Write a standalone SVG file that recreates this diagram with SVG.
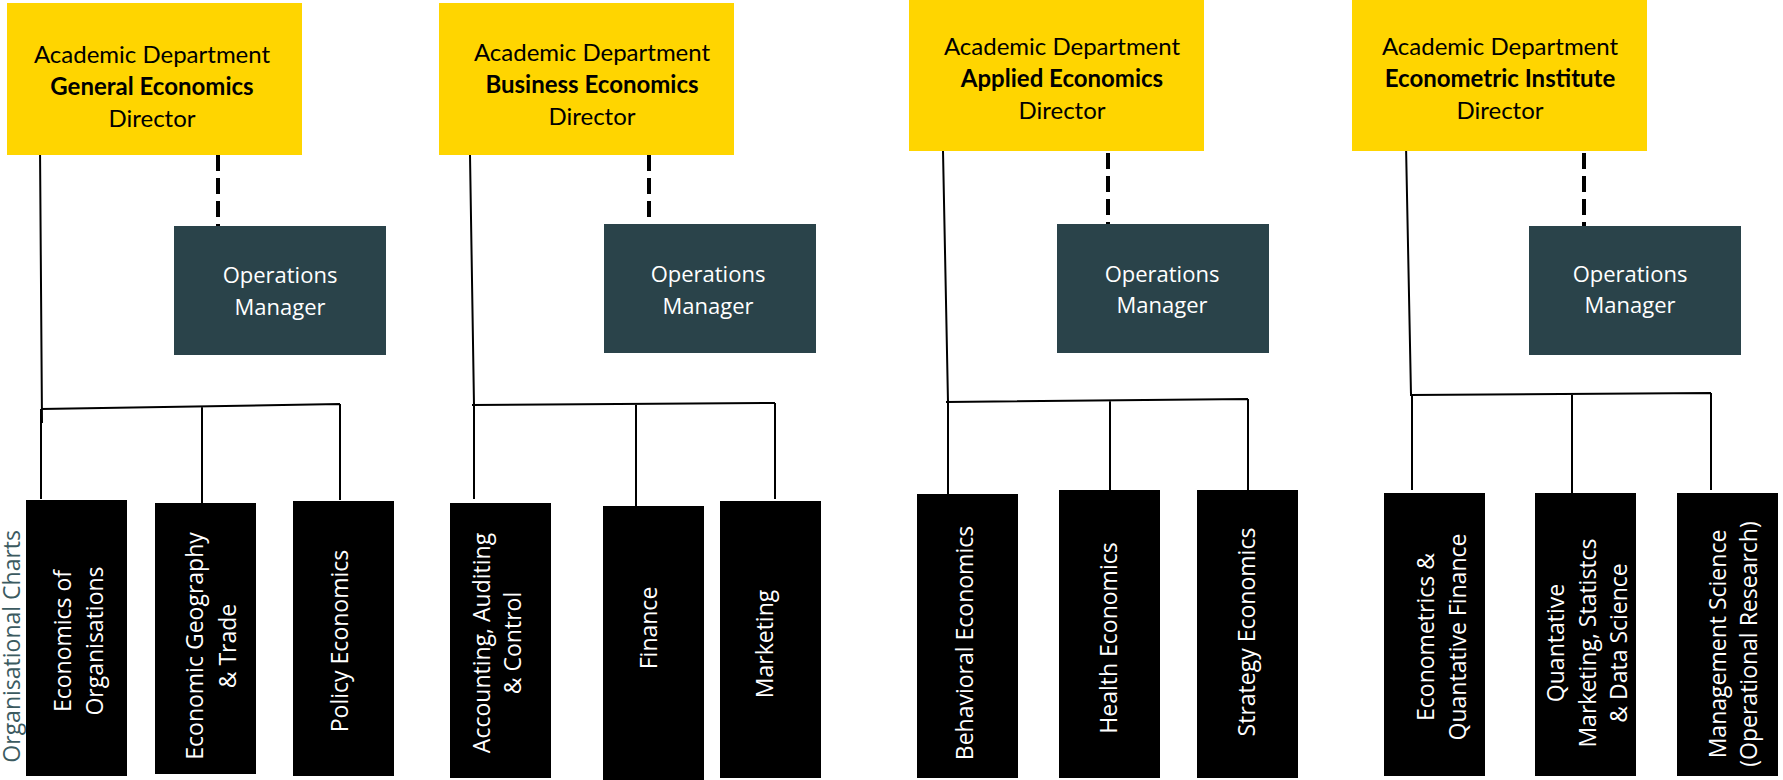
<svg xmlns="http://www.w3.org/2000/svg" width="1783" height="780" viewBox="0 0 1783 780">
<style>
.dir{fill:#FFD500}
.ops{fill:#2A434A}
.unit{fill:#000}
.t{font-family:Lato,"Open Sans",sans-serif;font-size:24px;fill:#000;text-anchor:middle}
.b{font-weight:bold}
.o{font-family:"Open Sans",sans-serif;font-size:22px;fill:#fff;text-anchor:middle}
.v{font-family:"Open Sans",sans-serif;font-size:23px;fill:#fff;text-anchor:middle}
.lbl{font-family:"Open Sans",sans-serif;font-size:23px;font-weight:400;fill:#3B5A60;text-anchor:end}
.ln{stroke:#000;stroke-width:2;fill:none}
.dash{stroke:#000;stroke-width:4;stroke-dasharray:16 7;fill:none}
</style>
<rect width="1783" height="780" fill="#fff"/>
<text class="lbl" transform="translate(20,530) rotate(-90)">Organisational Charts</text>
<g id="connectors">
<path class="dash" d="M218 155V226M649 155V224M1108 153V224M1584 153V226"/>
<path class="ln" d="M40 147L42 423M41 409L340 404M41 409V499M202 406V503M340 404V500"/>
<path class="ln" d="M470 155L474 405M472 405L775 403M474 405V499M636 404V506M775 403V499"/>
<path class="ln" d="M943 151L948 402M946 402L1248 399M948 402V494M1110 400V490M1248 399V490"/>
<path class="ln" d="M1406 145L1411 395M1410 395L1711 393M1412 395V490M1572 394V493M1711 393V490"/>
</g>
<g id="dir-general"><rect class="dir" x="7" y="3" width="295" height="152"/><text class="t" x="152" y="63">Academic Department</text><text class="t b" x="152" y="95">General Economics</text><text class="t" x="152" y="127">Director</text></g>
<g id="dir-business"><rect class="dir" x="439" y="3" width="295" height="152"/><text class="t" x="592" y="61">Academic Department</text><text class="t b" x="592" y="93">Business Economics</text><text class="t" x="592" y="125">Director</text></g>
<g id="dir-applied"><rect class="dir" x="909" y="0" width="295" height="151"/><text class="t" x="1062" y="55">Academic Department</text><text class="t b" x="1062" y="87">Applied Economics</text><text class="t" x="1062" y="119">Director</text></g>
<g id="dir-econometric"><rect class="dir" x="1352" y="0" width="295" height="151"/><text class="t" x="1500" y="55">Academic Department</text><text class="t b" x="1500" y="87">Econometric Institute</text><text class="t" x="1500" y="119">Director</text></g>
<g id="ops-1"><rect class="ops" x="174" y="226" width="212" height="129"/><text class="o" x="280" y="283">Operations</text><text class="o" x="280" y="315">Manager</text></g>
<g id="ops-2"><rect class="ops" x="604" y="224" width="212" height="129"/><text class="o" x="708" y="282">Operations</text><text class="o" x="708" y="314">Manager</text></g>
<g id="ops-3"><rect class="ops" x="1057" y="224" width="212" height="129"/><text class="o" x="1162" y="282">Operations</text><text class="o" x="1162" y="313">Manager</text></g>
<g id="ops-4"><rect class="ops" x="1529" y="226" width="212" height="129"/><text class="o" x="1630" y="282">Operations</text><text class="o" x="1630" y="313">Manager</text></g>
<g id="unit-eoo"><rect class="unit" x="26" y="500" width="101" height="276"/><text class="v" transform="translate(71,641) rotate(-90)"><tspan x="0" y="0">Economics of</tspan><tspan x="0" y="32">Organisations</tspan></text></g>
<g id="unit-egt"><rect class="unit" x="155" y="503" width="101" height="271"/><text class="v" transform="translate(203,646) rotate(-90)"><tspan x="0" y="0">Economic Geography</tspan><tspan x="0" y="33">&amp; Trade</tspan></text></g>
<g id="unit-pe"><rect class="unit" x="293" y="501" width="101" height="275"/><text class="v" transform="translate(348,641) rotate(-90)">Policy Economics</text></g>
<g id="unit-aac"><rect class="unit" x="450" y="503" width="101" height="275"/><text class="v" transform="translate(490,643) rotate(-90)"><tspan x="0" y="0">Accounting, Auditing</tspan><tspan x="0" y="31">&amp; Control</tspan></text></g>
<g id="unit-fin"><rect class="unit" x="603" y="506" width="101" height="290"/><text class="v" transform="translate(657,628) rotate(-90)">Finance</text></g>
<g id="unit-mkt"><rect class="unit" x="720" y="501" width="101" height="277"/><text class="v" transform="translate(773,644) rotate(-90)">Marketing</text></g>
<g id="unit-be"><rect class="unit" x="917" y="494" width="101" height="284"/><text class="v" transform="translate(973,643) rotate(-90)">Behavioral Economics</text></g>
<g id="unit-he"><rect class="unit" x="1059" y="490" width="101" height="288"/><text class="v" transform="translate(1117,638) rotate(-90)">Health Economics</text></g>
<g id="unit-se"><rect class="unit" x="1197" y="490" width="101" height="288"/><text class="v" transform="translate(1255,632) rotate(-90)">Strategy Economics</text></g>
<g id="unit-eqf"><rect class="unit" x="1384" y="493" width="101" height="283"/><text class="v" transform="translate(1434,637) rotate(-90)"><tspan x="0" y="0">Econometrics &amp;</tspan><tspan x="0" y="32">Quantative Finance</tspan></text></g>
<g id="unit-qms"><rect class="unit" x="1535" y="493" width="101" height="283"/><text class="v" transform="translate(1564,643) rotate(-90)"><tspan x="0" y="0">Quantative</tspan><tspan x="0" y="32">Marketing, Statistcs</tspan><tspan x="0" y="63">&amp; Data Science</tspan></text></g>
<g id="unit-ms"><rect class="unit" x="1677" y="493" width="101" height="283"/><text class="v" transform="translate(1726,644) rotate(-90)"><tspan x="0" y="0">Management Science</tspan><tspan x="0" y="31">(Operational Research)</tspan></text></g>
</svg>
